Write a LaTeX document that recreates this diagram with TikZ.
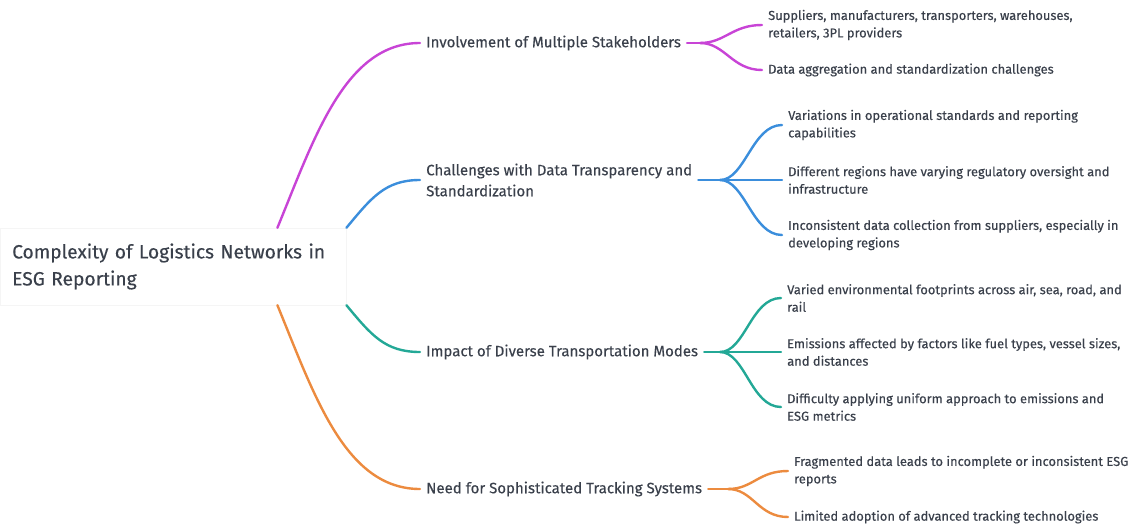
\documentclass[tikz,border=0pt]{standalone}
\usepackage{fontspec}
\setmainfont{Fira Sans}[FakeBold=0.35]
\usepackage{tikz}
\usetikzlibrary{calc}
\definecolor{textgray}{HTML}{3A404B}
\definecolor{branchmagenta}{HTML}{C844D6}
\definecolor{branchblue}{HTML}{3B8EDC}
\definecolor{branchteal}{HTML}{23A896}
\definecolor{branchorange}{HTML}{EC8B3F}

\begin{document}
\begin{tikzpicture}[x=1pt,y=-1pt,
  rootnode/.style={anchor=west,text=textgray,font=\fontsize{19.2}{27}\selectfont,align=left,
    text width=322pt,inner xsep=12pt,minimum height=77pt,draw=black!4,fill=white},
  topic/.style={anchor=west,text=textgray,font=\fontsize{15}{21}\selectfont,align=left,inner sep=6pt},
  leaf/.style={anchor=west,text=textgray,font=\fontsize{12.9}{17.5}\selectfont,align=left,inner sep=6pt},
  branch/.style={line width=2.4pt,line cap=round}]
  \useasboundingbox (0,0) rectangle (1134,527);

  \node[rootnode] (root) at (0,266.5) {Complexity of Logistics Networks in\\ESG Reporting};

  \node[topic] (stake) at (420,43) {Involvement of Multiple Stakeholders};
  \node[topic] (transp) at (420,180) {Challenges with Data Transparency and\\Standardization};
  \node[topic] (modes) at (420,352) {Impact of Diverse Transportation Modes};
  \node[topic] (track) at (420,489) {Need for Sophisticated Tracking Systems};

  \node[leaf] (s1) at (762,25) {Suppliers, manufacturers, transporters, warehouses,\\retailers, 3PL providers};
  \node[leaf] (s2) at (762,70) {Data aggregation and standardization challenges};
  \node[leaf] (t1) at (782,125) {Variations in operational standards and reporting\\capabilities};
  \node[leaf] (t2) at (782,180) {Different regions have varying regulatory oversight and\\infrastructure};
  \node[leaf] (t3) at (782,235) {Inconsistent data collection from suppliers, especially in\\developing regions};
  \node[leaf] (m1) at (781,298) {Varied environmental footprints across air, sea, road, and\\rail};
  \node[leaf] (m2) at (781,352) {Emissions affected by factors like fuel types, vessel sizes,\\and distances};
  \node[leaf] (m3) at (781,407) {Difficulty applying uniform approach to emissions and\\ESG metrics};
  \node[leaf] (k1) at (788,471) {Fragmented data leads to incomplete or inconsistent ESG\\reports};
  \node[leaf] (k2) at (788,517) {Limited adoption of advanced tracking technologies};

  \coordinate (stakefork) at (700,43);
  \coordinate (transpfork) at (720,180);
  \coordinate (modesfork) at (720,352);
  \coordinate (trackfork) at (728,489);

  \draw[branch,branchmagenta] ([xshift=-69pt]root.north east) .. controls +(37,-90) and +(-75,0) .. (stake.west);
  \draw[branch,branchblue] (root.north east) .. controls +(25,-30) and +(-35,0) .. (transp.west);
  \draw[branch,branchteal] (root.south east) .. controls +(25,30) and +(-35,0) .. (modes.west);
  \draw[branch,branchorange] ([xshift=-69pt]root.south east) .. controls +(37,90) and +(-75,0) .. (track.west);

  \draw[branch,branchmagenta] (stake.east) -- (stakefork);
  \draw[branch,branchmagenta] (stakefork) .. controls +(25,0) and +(-30,0) .. (s1.west);
  \draw[branch,branchmagenta] (stakefork) .. controls +(25,0) and +(-30,0) .. (s2.west);

  \draw[branch,branchblue] (transp.east) -- (transpfork);
  \draw[branch,branchblue] (transpfork) .. controls +(25,0) and +(-30,0) .. (t1.west);
  \draw[branch,branchblue] (transpfork) -- (t2.west);
  \draw[branch,branchblue] (transpfork) .. controls +(25,0) and +(-30,0) .. (t3.west);

  \draw[branch,branchteal] (modes.east) -- (modesfork);
  \draw[branch,branchteal] (modesfork) .. controls +(25,0) and +(-30,0) .. (m1.west);
  \draw[branch,branchteal] (modesfork) -- (m2.west);
  \draw[branch,branchteal] (modesfork) .. controls +(25,0) and +(-30,0) .. (m3.west);

  \draw[branch,branchorange] (track.east) -- (trackfork);
  \draw[branch,branchorange] (trackfork) .. controls +(25,0) and +(-30,0) .. (k1.west);
  \draw[branch,branchorange] (trackfork) .. controls +(25,0) and +(-30,0) .. (k2.west);
\end{tikzpicture}
\end{document}
